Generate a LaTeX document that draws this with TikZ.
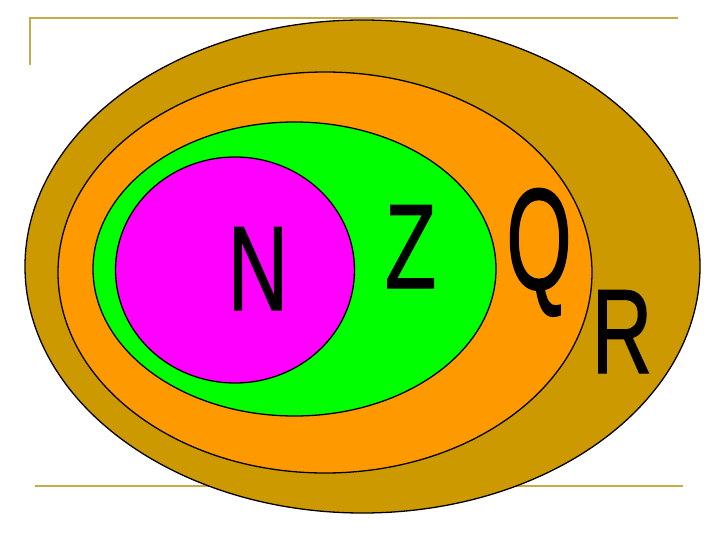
\documentclass[tikz,border=0pt]{standalone}
\usepackage{fontspec}
\setmainfont{Liberation Sans}
\newfontfamily\lettres[FakeBold=1.2]{Liberation Sans}
\usetikzlibrary{calc}
\definecolor{orR}{RGB}{204,153,0}
\definecolor{orQ}{RGB}{255,153,0}
\definecolor{vertZ}{RGB}{0,255,0}
\definecolor{roseN}{RGB}{255,0,255}
\definecolor{cadre}{RGB}{200,170,70}
\tikzset{
    ensemble/.style={draw=black, line width=1.3pt},
    lettre/.style={anchor=base, inner sep=0pt, xscale=0.7,
      font=\lettres\fontsize{120}{120}\selectfont},
    bord/.style={draw=cadre, line width=2pt},
  }
\begin{document}
\begin{tikzpicture}[x=1pt,y=-1pt]
				  %cadre
				  \useasboundingbox (0,0) rectangle (720,540);
				  \coordinate(H1) at (30,65);
				  \coordinate(H2) at (30,18);
				  \coordinate(H3) at (678,18);
				  \coordinate(B1) at (35,486);
				  \coordinate(B2) at (683,486);
				  \draw[bord] (H1) -- (H2) -- (H3);
				  \draw[bord] (B1) -- (B2);
				  
				  %ensembles
				  \coordinate(R) at (362.5,266.5);
				  \coordinate(Q) at (325,272.5);
				  \coordinate(Z) at (294.5,269);
				  \coordinate(N) at (235,270);
				  \draw[ensemble, fill=orR] (R) ellipse [x radius=337.5, y radius=246.5];
				  \draw[ensemble, fill=orQ] (Q) ellipse [x radius=267, y radius=200.5];
				  \draw[ensemble, fill=vertZ] (Z) ellipse [x radius=201.5, y radius=147];
				  \draw[ensemble, fill=roseN] (N) ellipse [x radius=119.5, y radius=113];
				  
				  %lettres
				  \node[lettre] (lN) at (258,310) {N};
				  \node[lettre] (lZ) at (410.5,288) {Z};
				  \node[lettre, yscale=1.2] (lQ) at (539,289) {Q};
				  \node[lettre] (lR) at (622,373) {R};
\end{tikzpicture}
\end{document}
